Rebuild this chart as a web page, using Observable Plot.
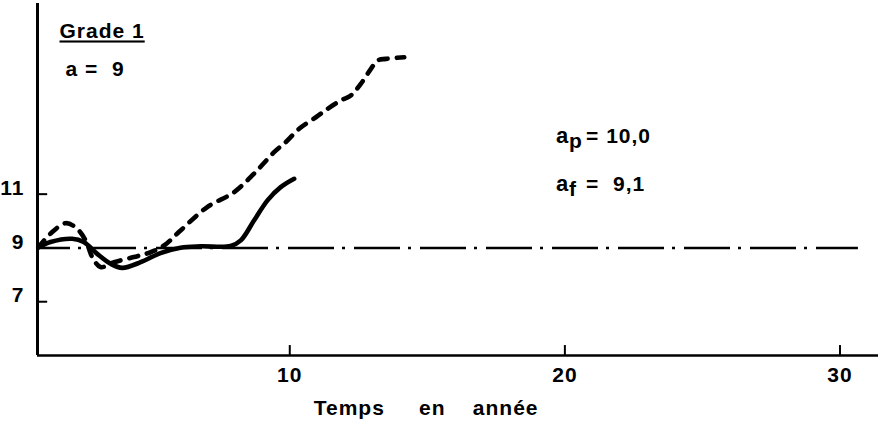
<!DOCTYPE html>
<html>
<head>
<meta charset="utf-8">
<script src="https://cdn.jsdelivr.net/npm/d3@7"></script>
<script src="https://cdn.jsdelivr.net/npm/@observablehq/plot@0.6"></script>
<style>
  html, body { margin: 0; padding: 0; background: #fff; }
  #chart svg { display: block; }
</style>
</head>
<body>
<div id="chart"></div>
<script>
// ---- data ----
const solidX = [0.86, 1.30, 2.09, 2.51, 3.00, 3.49, 3.91, 4.58, 5.30, 6.03, 6.76, 7.85, 8.22, 8.70, 9.19, 9.67, 10.16];
const solidY = [9.02, 9.22, 9.34, 9.22, 8.78, 8.41, 8.26, 8.47, 8.81, 9.01, 9.06, 9.07, 9.28, 10.02, 10.77, 11.26, 11.57];

const dashedX = [0.86, 1.30, 1.85, 2.21, 2.58, 2.82, 3.12, 3.61, 4.33, 4.94, 5.43, 6.03, 7.00, 7.97, 8.70, 9.43, 9.85, 10.34, 10.95, 11.37, 11.85, 12.22, 12.58, 12.95, 13.19, 13.49, 14.16];
const dashedY = [9.02, 9.53, 9.92, 9.77, 9.28, 8.66, 8.29, 8.47, 8.66, 8.84, 9.09, 9.65, 10.52, 11.07, 11.76, 12.56, 12.93, 13.43, 13.86, 14.17, 14.48, 14.67, 15.10, 15.66, 15.97, 16.03, 16.09];

const refLevel = 9;          // a = 9
const refEndX = 30.67;       // end of the dash-dot reference line

const xTicks = [10, 20, 30];
const yTicks = [7, 9, 11];

const titleText = "Grade 1";
const subtitleText = "a\u00a0=\u00a0\u00a09";
const xLabelText = "Temps\u00a0\u00a0\u00a0\u00a0\u00a0en\u00a0\u00a0\u00a0\u00a0année";
const paramNames = ["a", "a"];
const paramSubs = ["p", "f"];
const paramValues = ["=\u00a010,0", "=\u00a0\u00a09,1"];

// ---- build tables ----
const solid = solidX.map((x, i) => ({x, y: solidY[i]}));
const dashed = dashedX.map((x, i) => ({x, y: dashedY[i]}));
const params = paramNames.map((n, i) => ({name: n, sub: paramSubs[i], value: paramValues[i], row: i}));

// ---- layout ----
const X0 = 0.83, X1 = 31.4, Y0 = 5, Y1 = 18.09;
const paramX = 19.68;
const paramRowY = [12.92, 11.10];

const plot = Plot.plot({
  width: 878,
  height: 424,
  marginLeft: 37,
  marginRight: 0,
  marginTop: 3,
  marginBottom: 69,
  x: {domain: [X0, X1]},
  y: {domain: [Y0, Y1]},
  style: {
    fontFamily: "'Liberation Sans', Arial, Helvetica, sans-serif",
    fontSize: "21px",
    fontWeight: "bold",
    letterSpacing: "1px",
    color: "#000",
    background: "#fff"
  },
  marks: [
    // dash-dot reference line a = 9
    Plot.ruleY([refLevel], {x1: X0, x2: refEndX, stroke: "#000", strokeWidth: 2.5, strokeDasharray: "46,8,3,9", strokeDashoffset: 13}),
    // curves
    Plot.line(solid, {x: "x", y: "y", curve: "catmull-rom", stroke: "#000", strokeWidth: 4.6, strokeLinecap: "round", strokeLinejoin: "round"}),
    Plot.line(dashed, {x: "x", y: "y", curve: "catmull-rom", stroke: "#000", strokeWidth: 4.6, strokeLinecap: "round", strokeDasharray: "9,9"}),
    // axis lines
    Plot.ruleX([X0], {stroke: "#000", strokeWidth: 3}),
    Plot.ruleY([Y0], {stroke: "#000", strokeWidth: 2.5}),
    // inward tick marks
    Plot.ruleY(yTicks, {x1: X0, x2: X0 + 0.37, stroke: "#000", strokeWidth: 2}),
    Plot.ruleX(xTicks, {y1: Y0, y2: Y0 + 0.37, stroke: "#000", strokeWidth: 2}),
    // tick labels
    Plot.axisX({ticks: xTicks, tickSize: 0, tickPadding: 12, label: null, fontSize: 21, fontWeight: "bold"}),
    Plot.axisY({ticks: yTicks, tickSize: 0, tickPadding: 13, label: null, dy: -6, fontSize: 21, fontWeight: "bold"}),
    // x label
    Plot.text([xLabelText], {x: () => 10.87, frameAnchor: "bottom", textAnchor: "start", lineAnchor: "bottom", dy: 59, fontSize: 21, fontWeight: "bold"}),
    // title block
    Plot.text([titleText], {x: () => 1.63, y: () => 16.79, textAnchor: "start", lineAnchor: "bottom", fontSize: 21, fontWeight: "bold"}),
    Plot.text([subtitleText], {x: () => 1.85, y: () => 15.41, textAnchor: "start", lineAnchor: "bottom", fontSize: 21, fontWeight: "bold"}),
    // a_p, a_f
    Plot.text(params, {x: () => paramX, y: d => paramRowY[d.row], text: "name", textAnchor: "start", lineAnchor: "bottom", fontSize: 22, fontWeight: "bold"}),
    Plot.text(params, {x: () => paramX, y: d => paramRowY[d.row], text: "sub", textAnchor: "start", lineAnchor: "bottom", dx: 13, dy: 5, fontSize: 21, fontWeight: "bold"}),
    Plot.text(params, {x: () => paramX, y: d => paramRowY[d.row], text: "value", textAnchor: "start", lineAnchor: "bottom", dx: 30, fontSize: 21, fontWeight: "bold"})
  ]
});

document.getElementById("chart").appendChild(plot);

// underline the title
d3.select(plot).selectAll("text")
  .filter(function() { return this.textContent === titleText; })
  .style("text-decoration", "underline");
</script>
</body>
</html>
